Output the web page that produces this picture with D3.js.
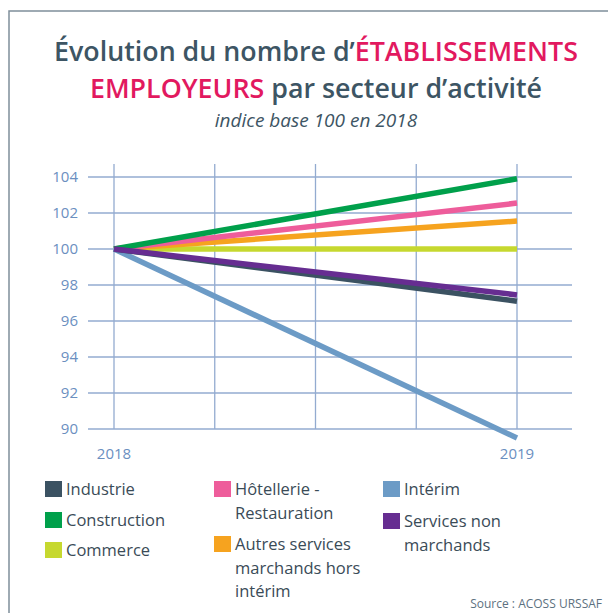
<!DOCTYPE html>
<html>
<head>
<meta charset="utf-8">
<script src="https://cdn.jsdelivr.net/npm/d3@7"></script>
<style>
  body { margin: 0; background: #fff; }
  text { font-family: "Open Sans", sans-serif; }
</style>
</head>
<body>
<div id="chart-area"></div>
<script>
// data
const years = [2018, 2019];
const sectors = ["Industrie", "Construction", "Commerce", "Hôtellerie - Restauration",
    "Autres services marchands hors intérim", "Intérim", "Services non marchands"];
const base2018 = [100, 100, 100, 100, 100, 100, 100];
const index2019 = [97.1, 103.9, 100.0, 102.55, 101.55, 89.5, 97.45];
const yTicks = [90, 92, 94, 96, 98, 100, 102, 104];
const colors = ["#3b5262", "#00a04b", "#c6d82f", "#ee5d9b", "#f6a31f", "#6c9bc6", "#662d91"];
const legendLabels = [["Industrie"], ["Construction"], ["Commerce"], ["Hôtellerie -", "Restauration"],
    ["Autres services", "marchands hors", "intérim"], ["Intérim"], ["Services non", "marchands"]];

const W = 608, H = 613;
const svg = d3.select("#chart-area").append("svg")
    .attr("width", W)
    .attr("height", H);

// frame
svg.append("path")
    .attr("d", "M9,613 V11 H608")
    .attr("fill", "none")
    .attr("stroke", "#7f8e9b")
    .attr("stroke-width", 1.5);

// title
const t1 = svg.append("text")
    .attr("x", 316).attr("y", 61)
    .attr("text-anchor", "middle")
    .attr("font-size", 26.8).attr("font-weight", 600)
    .attr("fill", "#3d5564");
t1.append("tspan").text("Évolution du nombre d’");
t1.append("tspan").attr("fill", "#e2195f").text("ÉTABLISSEMENTS");

const t2 = svg.append("text")
    .attr("x", 316).attr("y", 98)
    .attr("text-anchor", "middle")
    .attr("font-size", 26.8).attr("font-weight", 600)
    .attr("fill", "#3d5564");
t2.append("tspan").attr("fill", "#e2195f").text("EMPLOYEURS");
t2.append("tspan").text(" par secteur d’activité");

svg.append("text")
    .attr("x", 316).attr("y", 127)
    .attr("text-anchor", "middle")
    .attr("font-size", 19).attr("font-style", "italic").attr("font-weight", 500)
    .attr("fill", "#3d5564")
    .text("indice base 100 en 2018");

const x = d3.scaleLinear()
    .domain([2018, 2019])
    .range([114, 517]);

const y = d3.scaleLinear()
    .domain([90, 104])
    .range([429, 177]);

// grid
const gridColor = "#93abd0";
svg.append("g").selectAll("line")
    .data(yTicks)
    .enter()
    .append("line")
    .attr("x1", 88).attr("x2", 572)
    .attr("y1", d => y(d)).attr("y2", d => y(d))
    .attr("stroke", gridColor).attr("stroke-width", 1.3);

svg.append("g").selectAll("line")
    .data(d3.range(2018, 2019.01, 0.25))
    .enter()
    .append("line")
    .attr("x1", d => x(d)).attr("x2", d => x(d))
    .attr("y1", 164).attr("y2", y(90))
    .attr("stroke", gridColor).attr("stroke-width", 1.3);

// axis labels
svg.append("g").selectAll("text")
    .data(yTicks)
    .enter()
    .append("text")
    .attr("x", 78)
    .attr("y", d => y(d) + 5)
    .attr("text-anchor", "end")
    .attr("font-size", 15)
    .attr("font-weight", 500)
    .attr("fill", "#6b8fbf")
    .text(d => d);

svg.append("g").selectAll("text")
    .data(years)
    .enter()
    .append("text")
    .attr("x", d => x(d))
    .attr("y", 459)
    .attr("text-anchor", "middle")
    .attr("font-size", 15)
    .attr("font-weight", 500)
    .attr("fill", "#6b8fbf")
    .text(d => d);

// lines
const series = sectors.map((s, i) => ({
    name: s,
    color: colors[i],
    values: [{ year: years[0], v: base2018[i] }, { year: years[1], v: index2019[i] }]
}));
const drawOrder = [5, 0, 2, 4, 3, 1, 6];
const line = d3.line().x(d => x(d.year)).y(d => y(d.v));

svg.append("g").selectAll("path")
    .data(drawOrder.map(i => series[i]))
    .enter()
    .append("path")
    .attr("d", d => line(d.values))
    .attr("fill", "none")
    .attr("stroke", d => d.color)
    .attr("stroke-width", 5.5);

// legend
const legendPos = [[45, 489], [45, 520], [45, 550], [214, 489], [214, 544], [383, 489], [383, 521]];
const legend = svg.append("g").selectAll("g")
    .data(series)
    .enter()
    .append("g")
    .attr("transform", (d, i) => "translate(" + legendPos[i][0] + "," + legendPos[i][1] + ")");

legend.append("rect")
    .attr("x", 0).attr("y", -8)
    .attr("width", 17).attr("height", 16)
    .attr("fill", d => d.color);

legend.append("text")
    .attr("font-size", 16.5)
    .attr("font-weight", 500)
    .attr("fill", "#3a4b57")
    .each(function (d, i) {
        d3.select(this).selectAll("tspan")
            .data(legendLabels[i])
            .enter()
            .append("tspan")
            .attr("x", 21)
            .attr("y", (l, j) => 6 + j * 23.5)
            .text(l => l);
    });

svg.append("text")
    .attr("x", 602).attr("y", 608)
    .attr("text-anchor", "end")
    .attr("font-size", 12)
    .attr("fill", "#5d7180")
    .text("Source : ACOSS URSSAF");
</script>
</body>
</html>
